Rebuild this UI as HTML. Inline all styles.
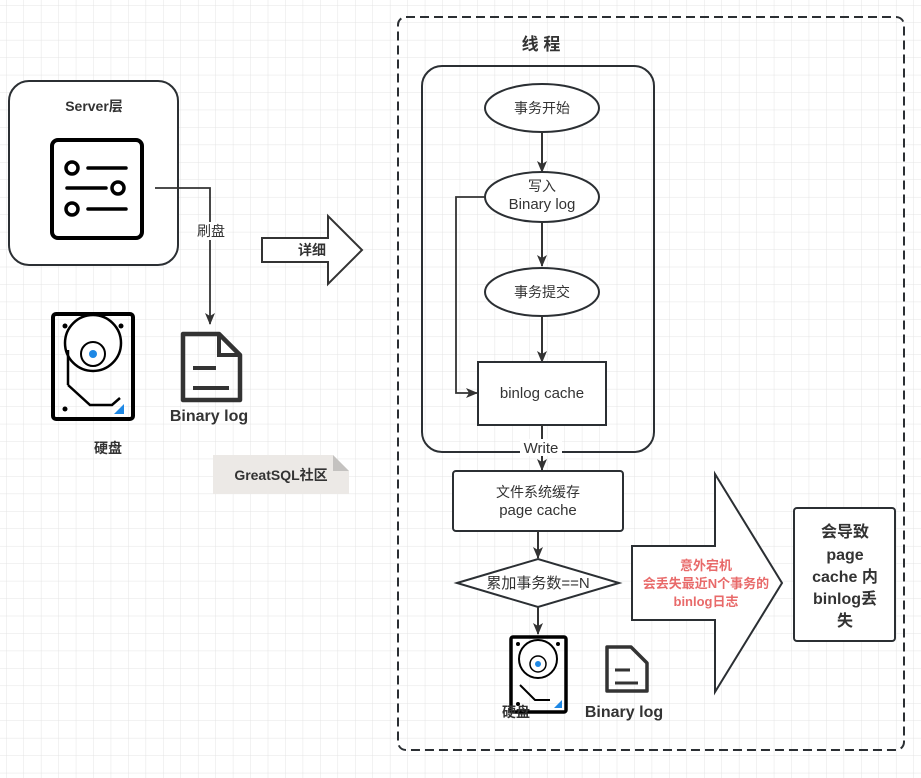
<!DOCTYPE html>
<html><head><meta charset="utf-8"><style>
html,body{margin:0;padding:0;width:921px;height:778px;overflow:hidden;background:#fff;}
svg{display:block;font-family:"Liberation Sans","Noto Sans CJK SC",sans-serif;}
</style></head><body>
<svg width="921" height="778" viewBox="0 0 921 778" xmlns="http://www.w3.org/2000/svg">
<defs>
<pattern id="g" x="6" y="5" width="17.45" height="17.45" patternUnits="userSpaceOnUse">
<path d="M0 0H17.45M0 0V17.45" stroke="#e4e4e4" stroke-width="1" fill="none"/>
</pattern>
<marker id="a" markerWidth="12" markerHeight="12" refX="11" refY="6" orient="auto" markerUnits="userSpaceOnUse">
<path d="M0 1L12 6L0 11L3 6Z" fill="#333"/>
</marker>
</defs>
<rect width="921" height="778" fill="url(#g)"/>
<g stroke="#2b2f33" fill="none">
<rect x="9" y="81" width="169" height="184" rx="20" fill="#fff" stroke-width="2"/>
<rect x="52" y="140" width="90" height="98" rx="6" stroke="#000" stroke-width="4"/>
<g stroke="#000" stroke-width="3.5" stroke-linecap="round">
<circle cx="72" cy="168" r="6"/><line x1="88" y1="168" x2="126" y2="168"/>
<line x1="67" y1="188" x2="106" y2="188"/><circle cx="118" cy="188" r="6"/>
<circle cx="72" cy="209" r="6"/><line x1="88" y1="209" x2="126" y2="209"/>
</g>
<path d="M155 188H210V324" stroke="#333" stroke-width="1.8" marker-end="url(#a)"/>
<rect x="53" y="314" width="80" height="105" rx="3" stroke="#000" stroke-width="4"/>
<circle cx="93" cy="343" r="28" stroke="#000" stroke-width="2.5" fill="#fff"/>
<circle cx="93" cy="354" r="12" stroke="#000" stroke-width="2"/>
<path d="M68 385L90 405H112L120 398" stroke="#000" stroke-width="2.5"/>
<path d="M68 350V385" stroke="#000" stroke-width="2.5"/>
<path d="M183 334H219L240 355V400H183Z" stroke="#333" stroke-width="4.5" stroke-linejoin="round"/>
<path d="M219 334V355H240" stroke="#333" stroke-width="4"/>
<line x1="193" y1="368" x2="216" y2="368" stroke="#333" stroke-width="4"/>
<line x1="193" y1="388" x2="229" y2="388" stroke="#333" stroke-width="4"/>
<path d="M262 238H328V216L362 250L328 284V262H262Z" fill="#fff" stroke="#333" stroke-width="2"/>
<rect x="398" y="17" width="506" height="733" rx="8" stroke-width="2" stroke-dasharray="9 5"/>
<rect x="422" y="66" width="232" height="386" rx="20" stroke-width="2"/>
<ellipse cx="542" cy="108" rx="57" ry="24" stroke-width="2" fill="#fff"/>
<line x1="542" y1="132" x2="542" y2="172" stroke="#333" stroke-width="2" marker-end="url(#a)"/>
<ellipse cx="542" cy="197" rx="57" ry="25" stroke-width="2" fill="#fff"/>
<line x1="542" y1="222" x2="542" y2="266" stroke="#333" stroke-width="2" marker-end="url(#a)"/>
<ellipse cx="542" cy="292" rx="57" ry="24" stroke-width="2" fill="#fff"/>
<line x1="542" y1="316" x2="542" y2="362" stroke="#333" stroke-width="2" marker-end="url(#a)"/>
<rect x="478" y="362" width="128" height="63" stroke-width="2" fill="#fff"/>
<path d="M485 197H456V393H477" stroke="#333" stroke-width="1.8" marker-end="url(#a)"/>
<line x1="542" y1="425" x2="542" y2="470" stroke="#333" stroke-width="2" marker-end="url(#a)"/>
<rect x="453" y="471" width="170" height="60" rx="3" stroke-width="2" fill="#fff"/>
<line x1="538" y1="531" x2="538" y2="558" stroke="#333" stroke-width="2" marker-end="url(#a)"/>
<path d="M457 583L538 559L619 583L538 607Z" stroke-width="2" fill="#fff"/>
<line x1="538" y1="607" x2="538" y2="634" stroke="#333" stroke-width="2" marker-end="url(#a)"/>
<rect x="511" y="637" width="55" height="75" rx="2" stroke="#000" stroke-width="3.5"/>
<circle cx="538" cy="659" r="19" stroke="#000" stroke-width="2" fill="#fff"/>
<circle cx="538" cy="664" r="8" stroke="#000" stroke-width="1.5"/>
<path d="M520 685L535 700H550" stroke="#000" stroke-width="2"/>
<path d="M607 647H631L647 663V691H607Z" stroke="#333" stroke-width="3.5" stroke-linejoin="round"/>
<line x1="615" y1="670" x2="630" y2="670" stroke="#333" stroke-width="3"/>
<line x1="615" y1="683" x2="638" y2="683" stroke="#333" stroke-width="3"/>
<path d="M632 546H715V474L782 583L715 692V620H632Z" stroke-width="2" fill="#fff"/>
<rect x="794" y="508" width="101" height="133" rx="3" stroke-width="2" fill="#fff"/>
</g>
<circle cx="93" cy="354" r="4" fill="#1e88e5"/>
<path d="M124 404L124 414L114 414Z" fill="#1e88e5"/>
<circle cx="538" cy="664" r="3" fill="#1e88e5"/>
<path d="M562 700V708H554Z" fill="#1e88e5"/>
<g fill="#000"><circle cx="65" cy="326" r="2.5"/><circle cx="121" cy="326" r="2.5"/><circle cx="65" cy="409" r="2.5"/>
<circle cx="518" cy="644" r="2"/><circle cx="558" cy="644" r="2"/><circle cx="518" cy="704" r="2"/></g>
<path d="M213 455H333L349 471V494H213Z" fill="#ece9e6"/>
<path d="M333 455L349 471H333Z" fill="#c4c2c0"/>
<rect x="196" y="222" width="30" height="18" fill="#fff"/>
<rect x="520" y="439" width="42" height="17" fill="#fff"/>
<g fill="#333" font-size="14" text-anchor="middle">
<text x="94" y="111" font-weight="bold">Server层</text>
<text x="211" y="236">刷盘</text>
<text x="209" y="421" font-size="16" font-weight="bold">Binary log</text>
<text x="108" y="453" font-weight="bold">硬盘</text>
<text x="281" y="480" font-weight="bold">GreatSQL社区</text>
<text x="312" y="255" font-weight="bold">详细</text>
<text x="541" y="50" font-size="17" font-weight="bold">线  程</text>
<text x="542" y="113">事务开始</text>
<text x="542" y="191">写入</text>
<text x="542" y="209" font-size="15">Binary log</text>
<text x="542" y="297">事务提交</text>
<text x="542" y="398" font-size="15">binlog cache</text>
<text x="541" y="453" font-size="15">Write</text>
<text x="538" y="497">文件系统缓存</text>
<text x="538" y="515" font-size="15">page cache</text>
<text x="538" y="588" font-size="15">累加事务数==N</text>
<text x="516" y="717" font-weight="bold">硬盘</text>
<text x="624" y="717" font-size="16" font-weight="bold">Binary log</text>
<g fill="#e86a6a" font-weight="bold" font-size="13"><text x="706" y="570">意外宕机</text><text x="706" y="588">会丢失最近N个事务的</text><text x="706" y="606">binlog日志</text></g>
<g font-size="16" font-weight="bold"><text x="845" y="537">会导致</text><text x="845" y="560">page</text><text x="845" y="582">cache 内</text><text x="845" y="604">binlog丢</text><text x="845" y="626">失</text></g>
</g>
</svg>
</body></html>
